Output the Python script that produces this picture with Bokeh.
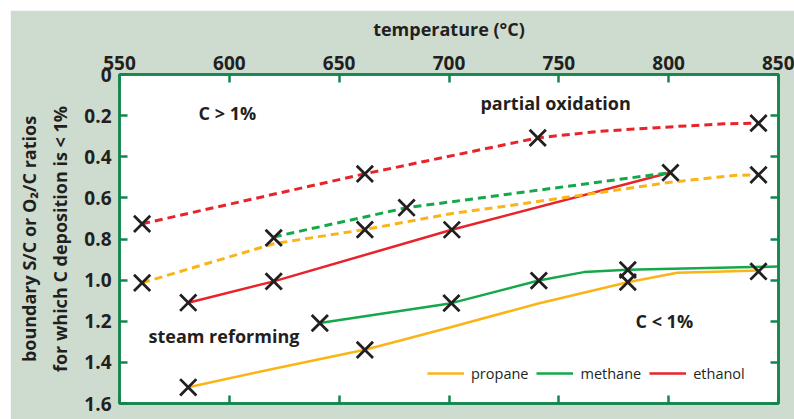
from bokeh.plotting import figure
from bokeh.models import (Range1d, LinearAxis, FixedTicker, CustomJSTickFormatter,
                          Label, Legend, LegendItem)
from bokeh.embed import file_html
from bokeh.resources import INLINE

# ---------------- data ----------------
temp_ticks = [550, 600, 650, 700, 750, 800, 850]
ratio_ticks = [0, 0.2, 0.4, 0.6, 0.8, 1.0, 1.2, 1.4, 1.6]

# steam reforming (solid)
propane_sr_t = [581.3, 620.2, 661.7, 677.9, 700.7, 740.2, 781.4, 803.9, 841.8]
propane_sr_v = [1.521, 1.431, 1.339, 1.294, 1.229, 1.115, 1.010, 0.964, 0.953]
methane_sr_t = [641.2, 701.1, 740.9, 761.4, 781.4, 850.0]
methane_sr_v = [1.209, 1.112, 1.002, 0.961, 0.950, 0.934]
ethanol_sr_t = [581.3, 620.2, 701.3, 800.8]
ethanol_sr_v = [1.110, 1.006, 0.755, 0.477]

# partial oxidation (dashed)
propane_pox_t = [560.3, 620.2, 661.7, 700.7, 728.0, 761.4, 800.8, 829.6, 840.9]
propane_pox_v = [1.013, 0.823, 0.754, 0.677, 0.637, 0.585, 0.524, 0.491, 0.488]
methane_pox_t = [620.2, 680.7, 800.8]
methane_pox_v = [0.790, 0.648, 0.477]
ethanol_pox_t = [560.3, 661.7, 740.4, 769.0, 803.0, 825.0, 840.9]
ethanol_pox_v = [0.726, 0.483, 0.308, 0.276, 0.253, 0.240, 0.237]

# measured points (crosses)
marker_t = [560.3, 560.3, 581.3, 581.3, 620.2, 620.2, 641.2, 661.7, 661.7, 661.7,
            680.7, 701.3, 701.1, 740.4, 740.9, 781.4, 781.4, 800.8, 840.9, 840.9, 840.9]
marker_v = [0.726, 1.013, 1.110, 1.521, 0.795, 1.006, 1.209, 0.483, 0.754, 1.339,
            0.648, 0.755, 1.112, 0.308, 1.002, 0.950, 1.010, 0.477, 0.237, 0.488, 0.958]

series_names = ["propane", "methane", "ethanol"]

# ---------------- style ----------------
PANEL = "#cddccf"
FRAME = "#12864c"
TXT = "#231f20"
ORANGE = "#fbb416"
GREEN = "#14a84a"
RED = "#e8232a"
FONT = "Open Sans"

p = figure(width=784, height=409,
           x_range=Range1d(550, 850), y_range=Range1d(1.6, 0),
           x_axis_location="above",
           output_backend="svg", toolbar_location=None,
           min_border_left=109, min_border_right=16,
           min_border_top=64, min_border_bottom=16)
p.margin = (10, 0, 0, 10)

p.background_fill_color = "white"
p.border_fill_color = PANEL
p.outline_line_color = FRAME
p.outline_line_width = 2.5
p.grid.visible = False

# bottom and right axes (ticks only)
p.add_layout(LinearAxis(), "below")
p.add_layout(LinearAxis(), "right")

for ax in p.xaxis:
    ax.ticker = FixedTicker(ticks=temp_ticks)
for ax in p.yaxis:
    ax.ticker = FixedTicker(ticks=ratio_ticks)
    ax.formatter = CustomJSTickFormatter(code="return tick == 0 ? '0' : tick.toFixed(1);")

for ax in p.axis:
    ax.axis_line_color = FRAME
    ax.axis_line_width = 2.5
    ax.major_tick_line_color = FRAME
    ax.major_tick_line_width = 2.5
    ax.major_tick_in = 8
    ax.major_tick_out = 0
    ax.minor_tick_line_color = None
    ax.major_label_text_font = FONT
    ax.major_label_text_font_style = "bold"
    ax.major_label_text_font_size = "19px"
    ax.major_label_text_color = TXT
    ax.axis_label_text_font = FONT
    ax.axis_label_text_font_style = "bold"
    ax.axis_label_text_font_size = "18px"
    ax.axis_label_text_color = TXT

top = p.xaxis[0]
top.axis_label = "temperature (°C)"
top.major_label_standoff = 5
top.axis_label_standoff = 12

left = p.yaxis[0]
left.axis_label = "boundary S/C or O\u2082/C ratios\nfor which C deposition is < 1%"
left.axis_label_text_line_height = 1.3
left.major_label_standoff = 8
left.axis_label_standoff = 9

for ax in (p.below[0], p.right[0]):
    ax.major_label_text_font_size = "2px"
    ax.major_label_text_color = None
    ax.major_label_standoff = 0

# ---------------- lines ----------------
r_prop = p.line(propane_sr_t, propane_sr_v, line_color=ORANGE, line_width=2.5)
r_meth = p.line(methane_sr_t, methane_sr_v, line_color=GREEN, line_width=2.5)
r_eth = p.line(ethanol_sr_t, ethanol_sr_v, line_color=RED, line_width=2.5)
p.line(propane_pox_t, propane_pox_v, line_color=ORANGE, line_width=3, line_dash="8 5")
p.line(methane_pox_t, methane_pox_v, line_color=GREEN, line_width=3, line_dash="8 5")
p.line(ethanol_pox_t, ethanol_pox_v, line_color=RED, line_width=3, line_dash="8 5")

p.scatter(marker_t, marker_v, marker="x", size=23, line_color=TXT, line_width=2.8)

# ---------------- annotations ----------------
for x, y, t in [(586, 0.187, "C > 1%"), (714.3, 0.139, "partial oxidation"),
                (563.2, 1.272, "steam reforming"), (784.9, 1.199, "C < 1%")]:
    p.add_layout(Label(x=x, y=y, text=t, text_align="left", text_baseline="middle",
                       text_font=FONT, text_font_style="bold",
                       text_font_size="18px", text_color=TXT))

legend = Legend(items=[LegendItem(label=series_names[0], renderers=[r_prop]),
                       LegendItem(label=series_names[1], renderers=[r_meth]),
                       LegendItem(label=series_names[2], renderers=[r_eth])],
                orientation="horizontal", location=(308, 20),
                glyph_width=37, glyph_height=20, label_height=20,
                label_standoff=7, spacing=8, padding=0, margin=0,
                border_line_color=None, background_fill_alpha=0,
                label_text_font=FONT, label_text_font_size="14.5px",
                label_text_color=TXT)
p.add_layout(legend)

open("out.html", "w").write(file_html(p, INLINE))
